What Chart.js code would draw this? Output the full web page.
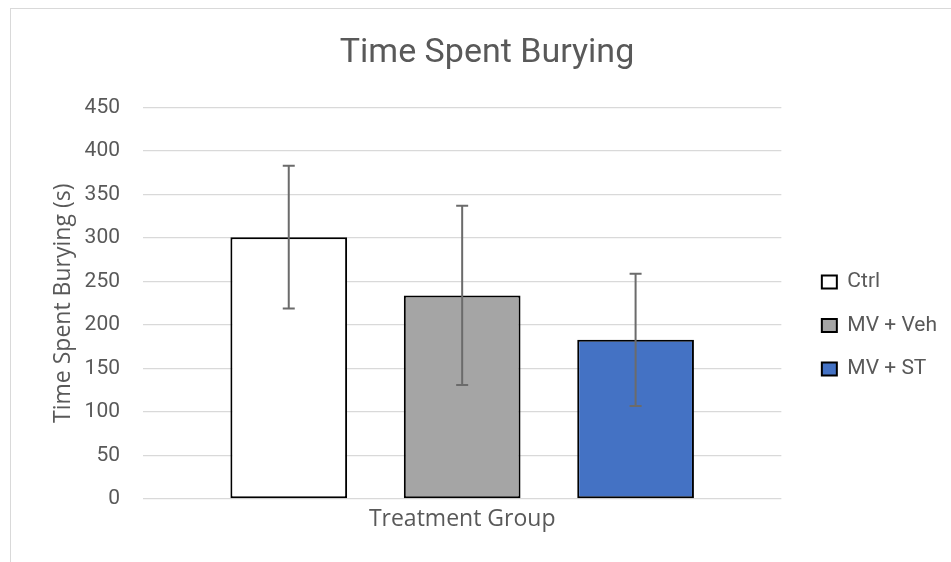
<!DOCTYPE html>
<html>
<head>
<meta charset="utf-8">
<script src="https://cdn.jsdelivr.net/npm/chart.js@4/dist/chart.umd.min.js"></script>
<style>
  html, body { margin: 0; padding: 0; background: #ffffff; }
  #c { display: block; }
</style>
</head>
<body>
<canvas id="c" width="951" height="562"></canvas>
<script>
// ---- data ----
const categories = ['Treatment Group'];
const seriesNames = ['Ctrl', 'MV + Veh', 'MV + ST'];
const ctrlValues = [301];
const vehValues = [234];
const stValues = [183];
const ctrlErrors = [82];
const vehErrors = [103];
const stErrors = [76];
const yMin = 0;
const yMax = 450;
const yStep = 50;

// ---- styles ----
const seriesColors = ['#ffffff', '#a5a5a5', '#4472c4'];
const textColor = '#595959';
const gridColor = '#d9d9d9';
const errorColor = '#6b6b6b';

const seriesValues = [ctrlValues, vehValues, stValues];
const seriesErrors = [ctrlErrors, vehErrors, stErrors];

const datasets = seriesNames.map((name, i) => ({
  label: name,
  data: seriesValues[i],
  errors: seriesErrors[i],
  backgroundColor: seriesColors[i],
  borderColor: '#000000',
  borderWidth: 2,
  borderSkipped: false,
  categoryPercentage: 0.815,
  barPercentage: 0.673
}));

const frame = {
  id: 'frame',
  beforeDraw(chart) {
    const ctx = chart.ctx;
    ctx.save();
    ctx.fillStyle = '#ffffff';
    ctx.fillRect(0, 0, chart.width, chart.height);
    ctx.strokeStyle = gridColor;
    ctx.lineWidth = 1;
    ctx.strokeRect(10.5, 8.5, chart.width + 20, chart.height + 20);
    ctx.restore();
  }
};

const errorBars = {
  id: 'errorBars',
  afterDatasetsDraw(chart) {
    const ctx = chart.ctx;
    const yScale = chart.scales.y;
    ctx.save();
    ctx.strokeStyle = errorColor;
    ctx.lineWidth = 2;
    chart.data.datasets.forEach((ds, di) => {
      const meta = chart.getDatasetMeta(di);
      meta.data.forEach((bar, j) => {
        const v = ds.data[j];
        const e = ds.errors[j];
        const x = bar.x;
        const yTop = yScale.getPixelForValue(v + e);
        const yBot = yScale.getPixelForValue(v - e);
        const cap = 6;
        ctx.beginPath();
        ctx.moveTo(x, yTop); ctx.lineTo(x, yBot);
        ctx.moveTo(x - cap, yTop); ctx.lineTo(x + cap, yTop);
        ctx.moveTo(x - cap, yBot); ctx.lineTo(x + cap, yBot);
        ctx.stroke();
      });
    });
    ctx.restore();
  }
};

new Chart(document.getElementById('c'), {
  type: 'bar',
  data: { labels: categories, datasets },
  plugins: [frame, errorBars],
  options: {
    responsive: false,
    animation: false,
    devicePixelRatio: 1,
    layout: { padding: { left: 27, right: 4, top: 0, bottom: 28.4 } },
    plugins: {
      title: {
        display: true,
        text: 'Time Spent Burying',
        color: textColor,
        font: { family: 'Roboto', size: 34, weight: 'normal' },
        padding: { top: 32.6, bottom: 34.1 }
      },
      legend: {
        position: 'right',
        fullSize: false,
        title: { display: true, text: '', padding: { top: 30, bottom: 0 } },
        labels: {
          color: textColor,
          font: { family: 'Roboto', size: 21 },
          boxWidth: 15,
          boxHeight: 13,
          padding: 22.5
        }
      },
      tooltip: { enabled: false }
    },
    scales: {
      x: {
        grid: { display: false, drawTicks: false },
        border: { display: false },
        ticks: {
          color: textColor,
          font: { family: 'Open Sans', size: 23 },
          padding: 7
        },
        afterFit(s) { s.height = 34.6; }
      },
      y: {
        min: yMin,
        max: yMax,
        grid: { color: gridColor, lineWidth: 1.3, drawTicks: false },
        border: { display: false },
        ticks: {
          stepSize: yStep,
          color: textColor,
          font: { family: 'Roboto', size: 21 },
          padding: 23
        },
        title: {
          display: true,
          text: 'Time Spent Burying (s)',
          color: textColor,
          font: { family: 'Open Sans', size: 23 },
          padding: { top: 22.2, bottom: 7.8 }
        },
        afterFit(s) { s.width = 116; }
      },
      gap: {
        type: 'linear',
        position: 'right',
        display: true,
        grid: { display: false },
        border: { display: false },
        ticks: { display: false },
        afterFit(s) { s.width = 18; }
      }
    }
  }
});
</script>
</body>
</html>
